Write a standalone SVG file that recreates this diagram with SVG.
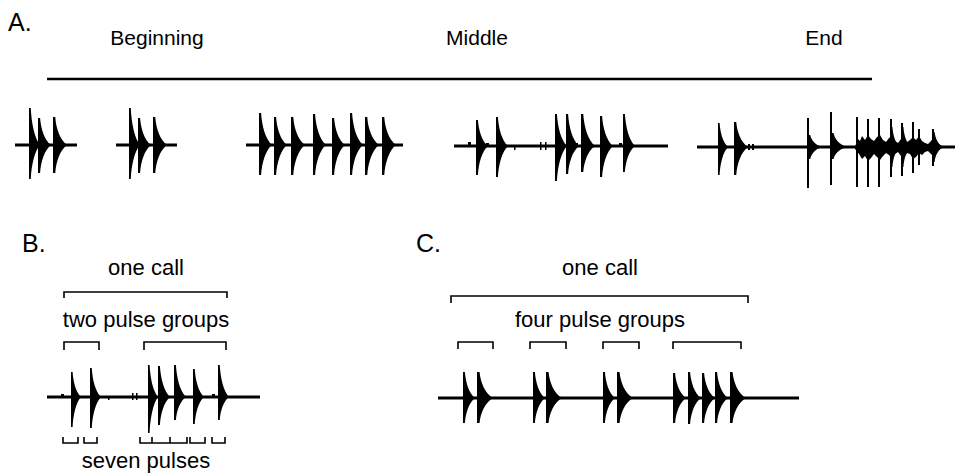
<svg xmlns="http://www.w3.org/2000/svg" xmlns:xlink="http://www.w3.org/1999/xlink" width="957" height="476" viewBox="0 0 957 476">
<style>
text{font-family:"Liberation Sans",Arial,sans-serif;fill:#000}
.lbl{font-size:25px}
.hd{font-size:21px;text-anchor:middle}
.cap{font-size:22px;text-anchor:middle}
.base{stroke:#000;stroke-width:3;fill:none}
.br{stroke:#000;stroke-width:1.6;fill:none}
.wf use,.wf path,.wf rect{fill:#000}
</style>
<defs>
<path id="pt" d="M0,0 V-1 H0.16 C0.22,-0.6 0.5,-0.18 1,0 Z"/>
<path id="pb" d="M0,0 V1 H0.16 C0.22,0.6 0.5,0.18 1,0 Z"/>
</defs>
<rect width="957" height="476" fill="#fff"/>

<g id="panelA">
<text class="lbl" x="8" y="31">A.</text>
<text class="hd" x="157" y="45">Beginning</text>
<text class="hd" x="477" y="45">Middle</text>
<text class="hd" x="824" y="45">End</text>
<line x1="47" y1="79" x2="872" y2="79" stroke="#000" stroke-width="2.5"/>

<g id="waveA1" class="wf">
<line class="base" x1="15" y1="145" x2="77" y2="145"/>
<use href="#pt" transform="translate(29,145) scale(11,37)"/><use href="#pb" transform="translate(29,145) scale(11,34)"/>
<use href="#pt" transform="translate(38,145) scale(13,27)"/><use href="#pb" transform="translate(38,145) scale(13,28)"/>
<use href="#pt" transform="translate(53,145) scale(14,28)"/><use href="#pb" transform="translate(53,145) scale(14,28)"/>
</g>
<g id="waveA2" class="wf">
<line class="base" x1="116" y1="145" x2="177" y2="145"/>
<use href="#pt" transform="translate(129,145) scale(11,37)"/><use href="#pb" transform="translate(129,145) scale(11,34)"/>
<use href="#pt" transform="translate(138,145) scale(13,27)"/><use href="#pb" transform="translate(138,145) scale(13,28)"/>
<use href="#pt" transform="translate(153,145) scale(14,28)"/><use href="#pb" transform="translate(153,145) scale(14,28)"/>
</g>
<g id="waveA3" class="wf">
<line class="base" x1="246" y1="145" x2="403" y2="145"/>
<use href="#pt" transform="translate(259,145) scale(13,32)"/><use href="#pb" transform="translate(259,145) scale(13,30)"/>
<use href="#pt" transform="translate(274,145) scale(13,28)"/><use href="#pb" transform="translate(274,145) scale(13,30)"/>
<use href="#pt" transform="translate(291,145) scale(14,28)"/><use href="#pb" transform="translate(291,145) scale(14,30)"/>
<use href="#pt" transform="translate(313,145) scale(13,31)"/><use href="#pb" transform="translate(313,145) scale(13,30)"/>
<use href="#pt" transform="translate(332,145) scale(13,27)"/><use href="#pb" transform="translate(332,145) scale(13,30)"/>
<use href="#pt" transform="translate(350,145) scale(13,32)"/><use href="#pb" transform="translate(350,145) scale(13,30)"/>
<use href="#pt" transform="translate(365,145) scale(14,28)"/><use href="#pb" transform="translate(365,145) scale(14,30)"/>
<use href="#pt" transform="translate(382,145) scale(14,28)"/><use href="#pb" transform="translate(382,145) scale(14,30)"/>
</g>
<g id="waveA4" class="wf">
<line class="base" x1="454" y1="146" x2="668" y2="146"/>
<rect x="468" y="142" width="3" height="4"/><rect x="486" y="143" width="3" height="3"/><rect x="514" y="146" width="1.5" height="4"/>
<rect x="540" y="142" width="1.5" height="8"/><rect x="545" y="142" width="1.5" height="8"/><rect x="575" y="143" width="3" height="3"/><rect x="619" y="143" width="3" height="3"/>
<use href="#pt" transform="translate(476,146) scale(12,26)"/><use href="#pb" transform="translate(476,146) scale(12,29)"/>
<use href="#pt" transform="translate(496,146) scale(12,29)"/><use href="#pb" transform="translate(496,146) scale(12,31)"/>
<use href="#pt" transform="translate(555,146) scale(12,32)"/><use href="#pb" transform="translate(555,146) scale(12,35)"/>
<use href="#pt" transform="translate(566,146) scale(13,32)"/><use href="#pb" transform="translate(566,146) scale(13,28)"/>
<use href="#pt" transform="translate(581,146) scale(14,32)"/><use href="#pb" transform="translate(581,146) scale(14,26)"/>
<use href="#pt" transform="translate(600,146) scale(13,30)"/><use href="#pb" transform="translate(600,146) scale(13,31)"/>
<use href="#pt" transform="translate(623,146) scale(12,32)"/><use href="#pb" transform="translate(623,146) scale(12,26)"/>
</g>
<g id="waveA5" class="wf">
<line class="base" x1="697" y1="147" x2="955" y2="147"/>
<use href="#pt" transform="translate(718,147) scale(10,24)"/><use href="#pb" transform="translate(718,147) scale(10,28)"/>
<use href="#pt" transform="translate(734,147) scale(14,25)"/><use href="#pb" transform="translate(734,147) scale(14,28)"/>
<rect x="748" y="144" width="2" height="6"/><rect x="752" y="144" width="2" height="6"/>
<rect x="807" y="118" width="2" height="70"/>
<use href="#pt" transform="translate(808,147) scale(14,12)"/><use href="#pb" transform="translate(808,147) scale(14,12)"/>
<rect x="830" y="112" width="2" height="73"/>
<use href="#pt" transform="translate(831,147) scale(16,14)"/><use href="#pb" transform="translate(831,147) scale(16,12)"/>
<path d="M855,147 L856,144 857,138 860,141 862,136 865,140 868,135 871,139 874,141 877,137 880,135 883,140 886,142 889,138 892,136 895,141 898,143 901,139 904,137 907,142 910,140 913,137 916,140 919,136 922,141 925,143 928,144 931,141 934,137 937,142 940,145 945,147 940,149 937,153 934,157 931,154 928,151 925,152 922,155 919,153 916,157 913,159 910,154 907,153 904,158 901,156 898,152 895,154 892,159 889,155 886,153 883,156 880,160 877,157 874,154 871,158 868,161 865,156 862,159 859,154 855,149 Z"/>
<rect x="856" y="117" width="2" height="70"/>
<rect x="867" y="119" width="2" height="68"/>
<rect x="878" y="118" width="2" height="69"/>
<rect x="890" y="119" width="2" height="58"/>
<rect x="901" y="123" width="2" height="53"/>
<rect x="912" y="122" width="2" height="51"/>
<rect x="918" y="129" width="2" height="36"/>
<rect x="932" y="129" width="2" height="37"/>
<use href="#pt" transform="translate(891,147) scale(9,20)"/><use href="#pb" transform="translate(891,147) scale(9,20)"/>
<use href="#pt" transform="translate(902,147) scale(9,20)"/><use href="#pb" transform="translate(902,147) scale(9,20)"/>
<use href="#pt" transform="translate(933,147) scale(10,15)"/><use href="#pb" transform="translate(933,147) scale(10,15)"/>
</g>
</g>

<g id="panelB">
<text class="lbl" x="22" y="252">B.</text>
<text class="cap" x="146" y="275">one call</text>
<path class="br" d="M64,298 V292 H227 V298"/>
<text class="cap" x="146" y="327">two pulse groups</text>
<path class="br" d="M64,350 V342 H99 V350"/>
<path class="br" d="M144,350 V342 H226 V350"/>
<g id="waveB" class="wf">
<line class="base" x1="47" y1="397" x2="260" y2="397" stroke-width="2.5"/>
<rect x="61" y="394" width="3" height="3"/><rect x="108" y="397" width="1.5" height="3"/><rect x="132" y="393" width="1.5" height="7"/><rect x="136" y="393" width="1.5" height="7"/><rect x="212" y="394" width="3" height="3"/>
<use href="#pt" transform="translate(71,397) scale(10,25)"/><use href="#pb" transform="translate(71,397) scale(10,30)"/>
<use href="#pt" transform="translate(90,397) scale(11,29)"/><use href="#pb" transform="translate(90,397) scale(11,31)"/>
<use href="#pt" transform="translate(148,397) scale(10,32)"/><use href="#pb" transform="translate(148,397) scale(10,36)"/>
<use href="#pt" transform="translate(158,397) scale(12,31)"/><use href="#pb" transform="translate(158,397) scale(12,28)"/>
<use href="#pt" transform="translate(174,397) scale(12,32)"/><use href="#pb" transform="translate(174,397) scale(12,23)"/>
<use href="#pt" transform="translate(193,397) scale(11,28)"/><use href="#pb" transform="translate(193,397) scale(11,27)"/>
<use href="#pt" transform="translate(218,397) scale(11,32)"/><use href="#pb" transform="translate(218,397) scale(11,23)"/>
</g>
<path class="br" d="M63,437 V443 H78 V437 M84,437 V443 H97 V437 M140,437 V443 H152 V437 M152,443 H170 V437 M170,443 H187 V437 M190,437 V443 H205 V437 M212,437 V443 H225 V437"/>
<text class="cap" x="146" y="468">seven pulses</text>
</g>

<g id="panelC">
<text class="lbl" x="416" y="252">C.</text>
<text class="cap" x="600" y="275">one call</text>
<path class="br" d="M451,303 V296 H748 V303"/>
<text class="cap" x="600" y="327">four pulse groups</text>
<path class="br" d="M458,349 V342 H493 V349 M530,349 V342 H566 V349 M603,349 V342 H639 V349 M673,349 V342 H741 V349"/>
<g id="waveC" class="wf">
<line class="base" x1="438" y1="398" x2="799" y2="398" stroke-width="2.5"/>
<use href="#pt" transform="translate(463,398) scale(12,26)"/><use href="#pb" transform="translate(463,398) scale(12,25)"/>
<use href="#pt" transform="translate(477,398) scale(16,26)"/><use href="#pb" transform="translate(477,398) scale(16,25)"/>
<use href="#pt" transform="translate(533,398) scale(12,26)"/><use href="#pb" transform="translate(533,398) scale(12,25)"/>
<use href="#pt" transform="translate(546,398) scale(16,26)"/><use href="#pb" transform="translate(546,398) scale(16,25)"/>
<use href="#pt" transform="translate(603,398) scale(12,26)"/><use href="#pb" transform="translate(603,398) scale(12,25)"/>
<use href="#pt" transform="translate(617,398) scale(16,26)"/><use href="#pb" transform="translate(617,398) scale(16,25)"/>
<use href="#pt" transform="translate(673,398) scale(13,25)"/><use href="#pb" transform="translate(673,398) scale(13,25)"/>
<use href="#pt" transform="translate(688,398) scale(13,26)"/><use href="#pb" transform="translate(688,398) scale(13,26)"/>
<use href="#pt" transform="translate(702,398) scale(13,25)"/><use href="#pb" transform="translate(702,398) scale(13,25)"/>
<use href="#pt" transform="translate(715,398) scale(13,26)"/><use href="#pb" transform="translate(715,398) scale(13,25)"/>
<use href="#pt" transform="translate(730,398) scale(16,26)"/><use href="#pb" transform="translate(730,398) scale(16,25)"/>
</g>
</g>
</svg>
